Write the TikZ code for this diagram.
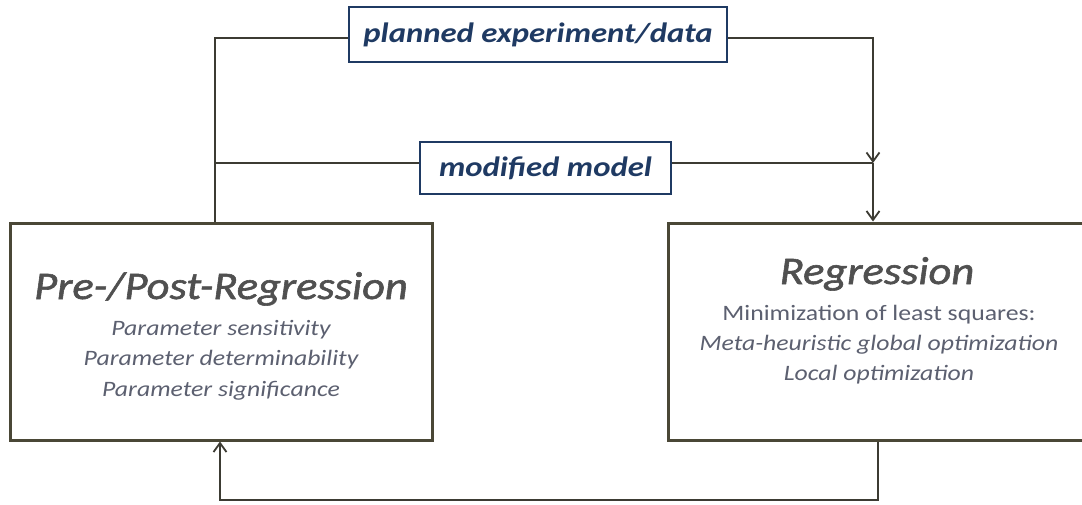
\documentclass[tikz,border=0pt]{standalone}
\usepackage{fontspec}
\setmainfont[FakeStretch=1.17]{Carlito}
\newfontfamily\ttlfont[FakeStretch=1.14,FakeBold=1.5]{Carlito}
\usetikzlibrary{arrows.meta}
\definecolor{linec}{HTML}{3C3B33}
\definecolor{boxc}{HTML}{4A4736}
\definecolor{navy}{HTML}{1F3A63}
\definecolor{titlec}{HTML}{505050}
\definecolor{subc}{HTML}{5C6070}
\tikzset{
  bigbox/.style={draw=boxc, line width=3pt, fill=white, inner sep=0pt},
  lblbox/.style={draw=navy, line width=2.5pt, fill=white, inner sep=0pt,
    font=\fontsize{28}{32}\selectfont\bfseries\itshape, text=navy},
  conn/.style={draw=linec, line width=2pt},
  arr/.style={conn, -{Straight Barb[length=9pt,width=13pt,line width=1.8pt]}},
  ttl/.style={anchor=base, font=\ttlfont\fontsize{39}{44}\selectfont\itshape, text=titlec},
  sub/.style={anchor=base, font=\fontsize{22}{26}\selectfont\itshape, text=subc},
  subup/.style={anchor=base, font=\fontsize{22}{26}\selectfont, text=subc}
}
\begin{document}
\begin{tikzpicture}[x=1pt,y=-1pt]
\clip (0,0) rectangle (1082,504);
\fill[white] (0,0) rectangle (1082,504);
% main boxes
\node[bigbox, minimum width=422pt, minimum height=217pt] (pre) at (221,331.5) {};
\node[bigbox, minimum width=418pt, minimum height=217pt] (reg) at (877,331.5) {};
% label boxes
\node[lblbox, minimum width=378pt, minimum height=55pt] (plan) at (538,34.5) {planned experiment/data};
\node[lblbox, minimum width=251pt, minimum height=52pt] (mod) at (545.5,168) {modified model\hspace{8pt}};
% texts
\node[ttl] (pret) at (221,299) {Pre-/Post-Regression};
\node[sub] (pre1) at (221,335) {Parameter sensitivity};
\node[sub] (pre2) at (221,365.5) {Parameter determinability};
\node[sub] (pre3) at (221,396) {Parameter significance};
\node[ttl] (regt) at (877,284) {Regression};
\node[subup] (reg1) at (879,320) {Minimization of least squares:};
\node[sub] (reg2) at (879,350) {Meta-heuristic global optimization};
\node[sub] (reg3) at (879,380) {Local optimization};
% coordinates
\coordinate (tl) at (215,38);
\coordinate (tr) at (873,38);
\coordinate (jl) at (215,163);
\coordinate (jr) at (873,163);
\coordinate (br) at (878,500);
\coordinate (bl) at (220,500);
% connectors
\draw[conn] (tl |- pre.north) -- (tl) -- (plan.west |- tl);
\draw[arr] (plan.east |- tr) -- (tr) -- (jr);
\draw[conn] (jl) -- (mod.west |- jl);
\draw[conn] (mod.east |- jr) -- (jr);
\draw[arr] (jr) -- (jr |- reg.north);
\draw[arr] (br |- reg.south) -- (br) -- (bl) -- (bl |- pre.south);
\end{tikzpicture}
\end{document}
